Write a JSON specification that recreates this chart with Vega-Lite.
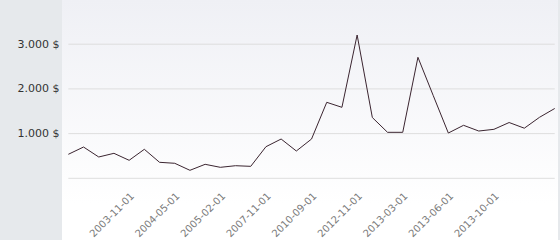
{
  "$schema": "https://vega.github.io/schema/vega-lite/v6.json",
  "width": 496,
  "height": 240,
  "autosize": "none",
  "padding": {"left": 62, "top": 0, "right": 2, "bottom": 0},
  "background": "#e6e9ec",
  "config": {
    "view": {
      "stroke": null,
      "fill": {"gradient": "linear", "x1": 0, "y1": 0, "x2": 0, "y2": 1, "stops": [{"offset": 0, "color": "#eff0f5"}, {"offset": 0.85, "color": "#ffffff"}, {"offset": 1, "color": "#ffffff"}]}
    },
    "font": "DejaVu Sans"
  },
  "datasets": {
    "prices": [
      {"date": "2003-03-01", "price": 537},
      {"date": "2003-05-01", "price": 700},
      {"date": "2003-07-01", "price": 477},
      {"date": "2003-09-01", "price": 559},
      {"date": "2003-11-01", "price": 403},
      {"date": "2004-01-01", "price": 649},
      {"date": "2004-03-01", "price": 358},
      {"date": "2004-05-01", "price": 336},
      {"date": "2004-08-01", "price": 179},
      {"date": "2004-11-01", "price": 313},
      {"date": "2005-02-01", "price": 246},
      {"date": "2006-01-01", "price": 282},
      {"date": "2006-12-01", "price": 268},
      {"date": "2007-11-01", "price": 707},
      {"date": "2008-10-01", "price": 879},
      {"date": "2009-09-01", "price": 611},
      {"date": "2010-09-01", "price": 879},
      {"date": "2011-06-01", "price": 1700},
      {"date": "2012-03-01", "price": 1588},
      {"date": "2012-11-01", "price": 3206},
      {"date": "2012-12-01", "price": 1360},
      {"date": "2013-02-01", "price": 1029},
      {"date": "2013-03-01", "price": 1029},
      {"date": "2013-04-01", "price": 2707},
      {"date": "2013-05-01", "price": 1857},
      {"date": "2013-06-01", "price": 1013},
      {"date": "2013-07-01", "price": 1186},
      {"date": "2013-08-01", "price": 1058},
      {"date": "2013-10-01", "price": 1096},
      {"date": "2013-11-01", "price": 1248},
      {"date": "2013-12-01", "price": 1121},
      {"date": "2014-01-01", "price": 1365},
      {"date": "2014-02-01", "price": 1562}
    ],
    "grid": [{"g": 0}, {"g": 1000}, {"g": 2000}, {"g": 3000}]
  },
  "layer": [
    {
      "data": {"name": "grid"},
      "mark": {"type": "rule", "color": "#dedede", "strokeWidth": 1},
      "encoding": {
        "x": {"datum": "2003-03-01", "type": "ordinal", "sort": "ascending"},
        "x2": {"datum": "2014-02-01"},
        "y": {"field": "g", "type": "quantitative"}
      }
    },
    {
      "data": {"name": "prices"},
      "mark": {"type": "line", "color": "#3b2530", "strokeWidth": 1},
      "encoding": {
        "x": {
          "field": "date",
          "type": "ordinal",
          "sort": "ascending",
          "scale": {"type": "point", "padding": 0.316, "align": 0.66},
          "axis": {
            "title": null,
            "values": ["2003-11-01", "2004-05-01", "2005-02-01", "2007-11-01", "2010-09-01", "2012-11-01", "2013-03-01", "2013-06-01", "2013-10-01"],
            "labelAngle": -45,
            "labelFontSize": 10,
            "labelColor": "#7a7a7a",
            "ticks": false,
            "domain": false,
            "grid": false,
            "offset": -62,
            "labelPadding": 16,
            "labelOffset": 3
          }
        },
        "y": {
          "field": "price",
          "type": "quantitative",
          "scale": {"domain": [-1380, 3989], "nice": false, "zero": false},
          "axis": {
            "title": null,
            "values": [1000, 2000, 3000],
            "labelExpr": "replace(format(datum.value, ',d'), ',', '.') + ' $'",
            "labelFontSize": 11,
            "labelColor": "#333333",
            "ticks": false,
            "domain": false,
            "grid": false,
            "labelPadding": 3
          }
        }
      }
    }
  ]
}
